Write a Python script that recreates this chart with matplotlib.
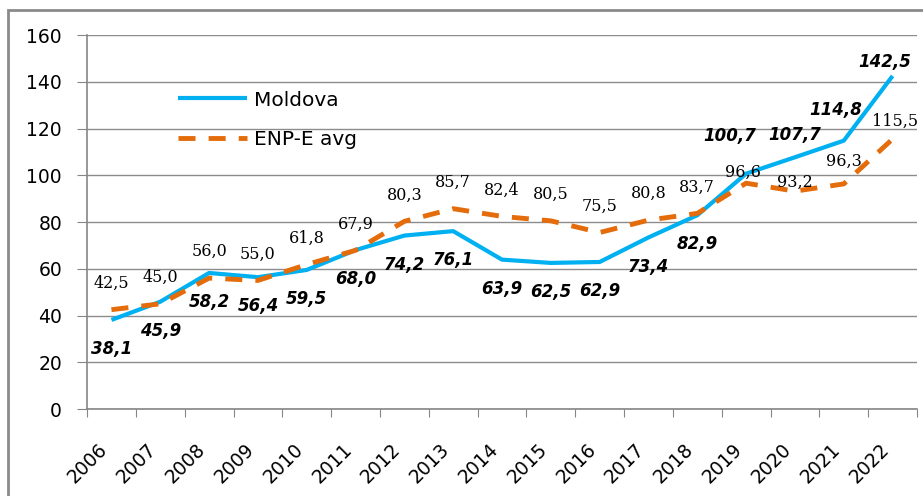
import matplotlib
matplotlib.use("Agg")
import matplotlib.pyplot as plt
from matplotlib.patches import Rectangle

# data
years = [str(y) for y in range(2006, 2023)]
moldova = [38.1, 45.9, 58.2, 56.4, 59.5, 68.0, 74.2, 76.1, 63.9, 62.5,
           62.9, 73.4, 82.9, 100.7, 107.7, 114.8, 142.5]
enp_avg = [42.5, 45.0, 56.0, 55.0, 61.8, 67.9, 80.3, 85.7, 82.4, 80.5,
           75.5, 80.8, 83.7, 96.6, 93.2, 96.3, 115.5]

# label placement (offset in points from the point)
mold_off = [(0, -21)] * 13 + [(-12, 27), (0, 16), (-6, 22), (-6, 10)]
enp_off = [(0, 19)] * 13 + [(-2, 8), (0, 6), (0, 16), (2, 13)]

fig = plt.figure(figsize=(9.23, 4.96), dpi=100)
ax = fig.add_axes([0.0943, 0.1754, 0.8992, 0.754])

x = list(range(len(years)))
ax.plot(x, moldova, color='#00B0F0', lw=3.0, label='Moldova', solid_capstyle='butt')
ax.plot(x, enp_avg, color='#E46C0A', lw=3.5, dashes=(3.5, 2.7), label='ENP-E avg')

for i, v in enumerate(moldova):
    ax.annotate(f"{v:.1f}".replace('.', ','), (i, v), xytext=mold_off[i],
                textcoords='offset points', ha='center', va='center',
                fontsize=12, fontweight='bold', fontstyle='italic',
                family='DejaVu Sans', color='black')
for i, v in enumerate(enp_avg):
    ax.annotate(f"{v:.1f}".replace('.', ','), (i, v), xytext=enp_off[i],
                textcoords='offset points', ha='center', va='center',
                fontsize=11.5, family='DejaVu Serif', color='black')

ax.set_xlim(-0.5, len(years) - 0.5)
ax.set_ylim(0, 160)
ax.set_yticks(range(0, 161, 20))
ax.set_xticks([i - 0.5 for i in range(len(years) + 1)], minor=False)
ax.set_xticklabels([])
ax.set_xticks(x, minor=True)
ax.set_xticklabels(years, minor=True, rotation=45, ha='right', fontsize=13.5)
ax.tick_params(axis='x', which='minor', length=0, pad=22)
ax.tick_params(axis='x', which='major', length=6, color='#868686')
ax.tick_params(axis='y', length=7, color='#868686', labelsize=13.5, pad=11)

ax.yaxis.grid(True, color='#8c8c8c', lw=1)
ax.set_axisbelow(True)
for s in ['top', 'right']:
    ax.spines[s].set_visible(False)
for s in ['left', 'bottom']:
    ax.spines[s].set_color('#868686')
    ax.spines[s].set_linewidth(1.2)

ax.legend(loc='upper left', bbox_to_anchor=(0.088, 0.90), frameon=False,
          fontsize=14.5, handlelength=3.4, handletextpad=0.35, labelspacing=1.0)

# outer chart border
fig.patches.append(Rectangle((8 / 923, -0.05), 1.1, 1 - 10 / 496 + 0.05,
                             transform=fig.transFigure, fill=False,
                             edgecolor='#8a8a8a', lw=2, clip_on=False))

fig.savefig('out.png', dpi=100)
